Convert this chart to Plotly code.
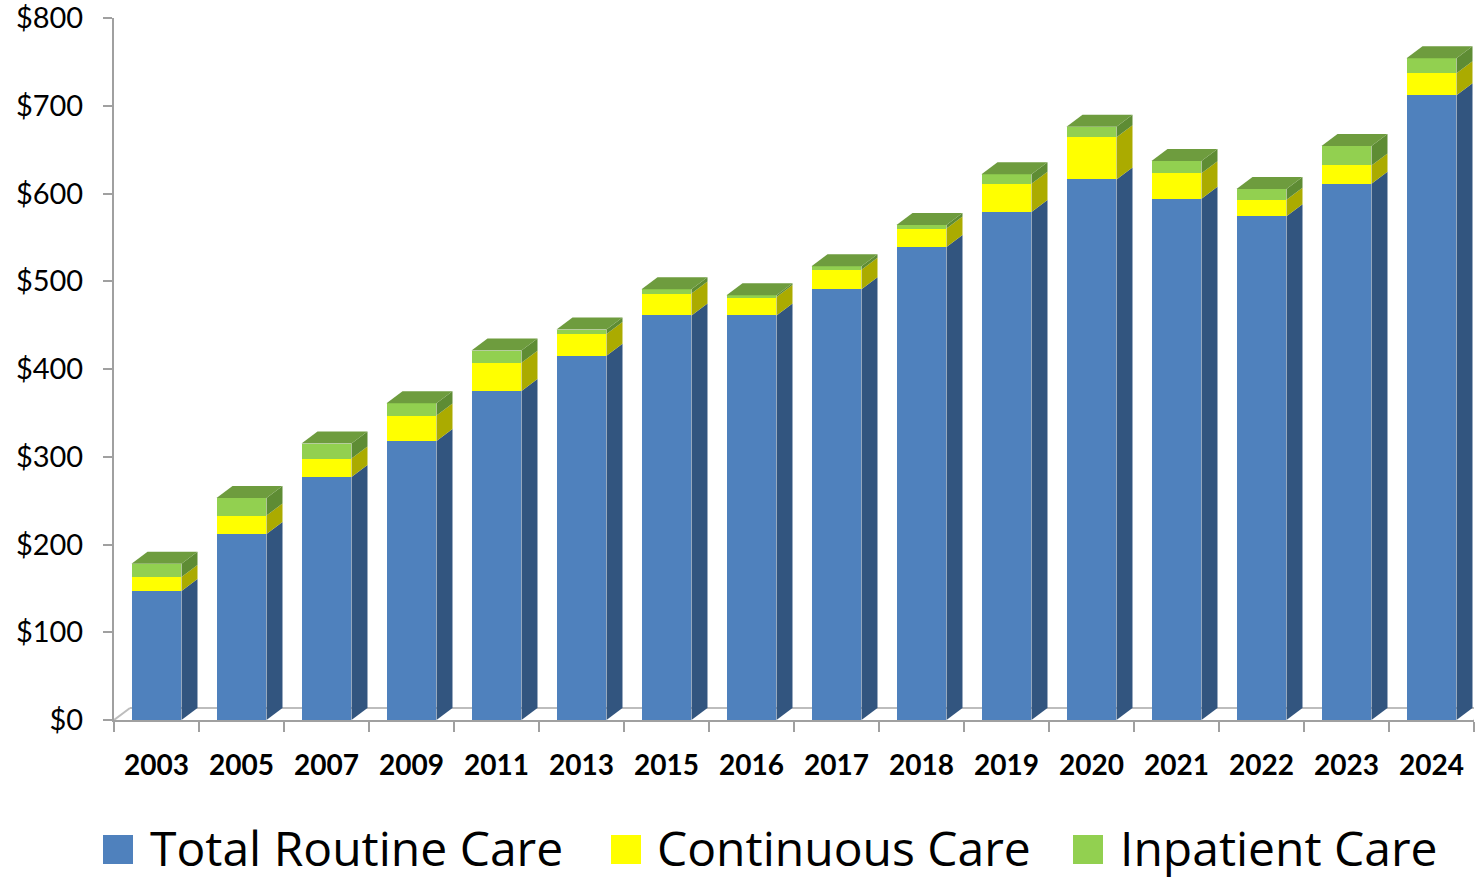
import plotly.graph_objects as go

# Hospice spending by level of care (stacked, $ millions)
years = ["2003", "2005", "2007", "2009", "2011", "2013", "2015", "2016",
         "2017", "2018", "2019", "2020", "2021", "2022", "2023", "2024"]
routine = [147, 212, 277, 318, 375, 415, 461, 461,
           491, 539, 579, 616, 594, 574, 611, 712]
continuous = [16, 21, 21, 29, 32, 25, 25, 21,
              22, 21, 32, 48, 29, 19, 21, 25]
inpatient = [15, 20, 17, 14, 14, 5, 5, 2,
             4, 4, 11, 12, 14, 12, 22, 17]

series_names = ["Total Routine Care", "Continuous Care", "Inpatient Care"]
y_tick_values = [0, 100, 200, 300, 400, 500, 600, 700, 800]
y_tick_labels = ["$0", "$100", "$200", "$300", "$400", "$500", "$600", "$700", "$800"]

FRONT = ["#4F81BD", "#FFFF00", "#92D050"]
SIDE = ["#32557F", "#ABAB00", "#5E8C34"]
TOP = ["#3E6A9E", "#CFCF00", "#6E9C3E"]
AXIS = "#A0A0A0"
FLOOR = "#BDBDBD"
TICK_FONT = "Lato"
LEGEND_FONT = "Open Sans"

W, H = 1482, 879
ML, MR, MT, MB = 114, 8, 18, 159
plot_w = W - ML - MR
plot_h = H - MT - MB

n = len(years)
x_range = [-0.5, n - 0.5]
y_range = [0, 800]
bar_w = 0.588

# extrusion depth of the pseudo-3D bars, in screen pixels, converted to data units
depth_px = (16, 12)
dx = depth_px[0] * (x_range[1] - x_range[0]) / plot_w
dy = depth_px[1] * (y_range[1] - y_range[0]) / plot_h


def poly(points):
    return "M " + " L ".join(f"{x},{y}" for x, y in points) + " Z"


def px_x(x):
    return (x - ML) / plot_w


def px_y(y):
    return (H - MB - y) / plot_h


fig = go.Figure()
series = [routine, continuous, inpatient]
for k, (name, vals) in enumerate(zip(series_names, series)):
    fig.add_trace(go.Bar(
        x=list(range(n)), y=vals, width=bar_w, name=name,
        marker=dict(color=FRONT[k], line=dict(width=0)),
        showlegend=False, hoverinfo="skip",
    ))

shapes = []

# floor of the 3D box
floor_line = dict(color=FLOOR, width=2)
shapes.append(dict(type="line", xref="x", yref="y", layer="below",
                   x0=x_range[0], y0=0, x1=x_range[0] + dx, y1=dy, line=floor_line))
shapes.append(dict(type="line", xref="x", yref="y", layer="below",
                   x0=x_range[0] + dx, y0=dy, x1=x_range[1] + dx, y1=dy, line=floor_line))
shapes.append(dict(type="line", xref="x", yref="y", layer="below",
                   x0=x_range[1], y0=0, x1=x_range[1] + dx, y1=dy, line=floor_line))

# side and top faces of each stacked bar
for i in range(n):
    x0 = i - bar_w / 2
    x1 = i + bar_w / 2
    base = 0
    top_k = 0
    for k, vals in enumerate(series):
        v = vals[i]
        if v <= 0:
            continue
        b, t = base, base + v
        shapes.append(dict(
            type="path", xref="x", yref="y", layer="above",
            path=poly([(x1, b), (x1 + dx, b + dy), (x1 + dx, t + dy), (x1, t)]),
            fillcolor=SIDE[k], line=dict(width=0),
        ))
        base = t
        top_k = k
    shapes.append(dict(
        type="path", xref="x", yref="y", layer="above",
        path=poly([(x0, base), (x1, base), (x1 + dx, base + dy), (x0 + dx, base + dy)]),
        fillcolor=TOP[top_k], line=dict(width=0),
    ))

# legend
legend_items = [
    (103, 148, series_names[0], FRONT[0]),
    (611, 655, series_names[1], FRONT[1]),
    (1073, 1118, series_names[2], FRONT[2]),
]
annotations = []
for sq_x, txt_x, label, color in legend_items:
    shapes.append(dict(
        type="rect", xref="paper", yref="paper",
        x0=px_x(sq_x), x1=px_x(sq_x + 30), y0=px_y(864), y1=px_y(835),
        fillcolor=color, line=dict(width=0),
    ))
    annotations.append(dict(
        xref="paper", yref="paper", x=px_x(txt_x), y=px_y(847),
        xanchor="left", yanchor="middle", showarrow=False, text=label,
        font=dict(family=LEGEND_FONT, size=48, color="#000000"),
    ))

fig.update_layout(
    width=W, height=H, autosize=False,
    margin=dict(l=ML, r=MR, t=MT, b=MB, pad=0),
    paper_bgcolor="white", plot_bgcolor="white",
    barmode="stack", bargap=0,
    shapes=shapes, annotations=annotations,
    showlegend=False,
    xaxis=dict(
        range=x_range, showgrid=False, zeroline=False, automargin=False,
        showline=True, linecolor=AXIS, linewidth=2,
        tickmode="array", tickvals=list(range(n)), ticktext=years,
        ticks="", ticklabelstandoff=19, ticklabeloverflow="allow",
        tickfont=dict(family=TICK_FONT, size=28, color="#000000", weight="bold"),
        minor=dict(tickmode="array", tickvals=[i - 0.5 for i in range(n + 1)],
                   ticks="outside", ticklen=10, tickwidth=2, tickcolor=AXIS),
        fixedrange=True,
    ),
    yaxis=dict(
        range=y_range, showgrid=False, zeroline=False, automargin=False,
        showline=True, linecolor=AXIS, linewidth=2,
        tickmode="array", tickvals=y_tick_values, ticktext=y_tick_labels,
        ticks="outside", ticklen=9, tickwidth=2, tickcolor=AXIS,
        ticklabelstandoff=14, ticklabeloverflow="allow",
        tickfont=dict(family=TICK_FONT, size=29, color="#000000"),
        fixedrange=True,
    ),
)

fig.write_html("out.html", config={"displayModeBar": False})
